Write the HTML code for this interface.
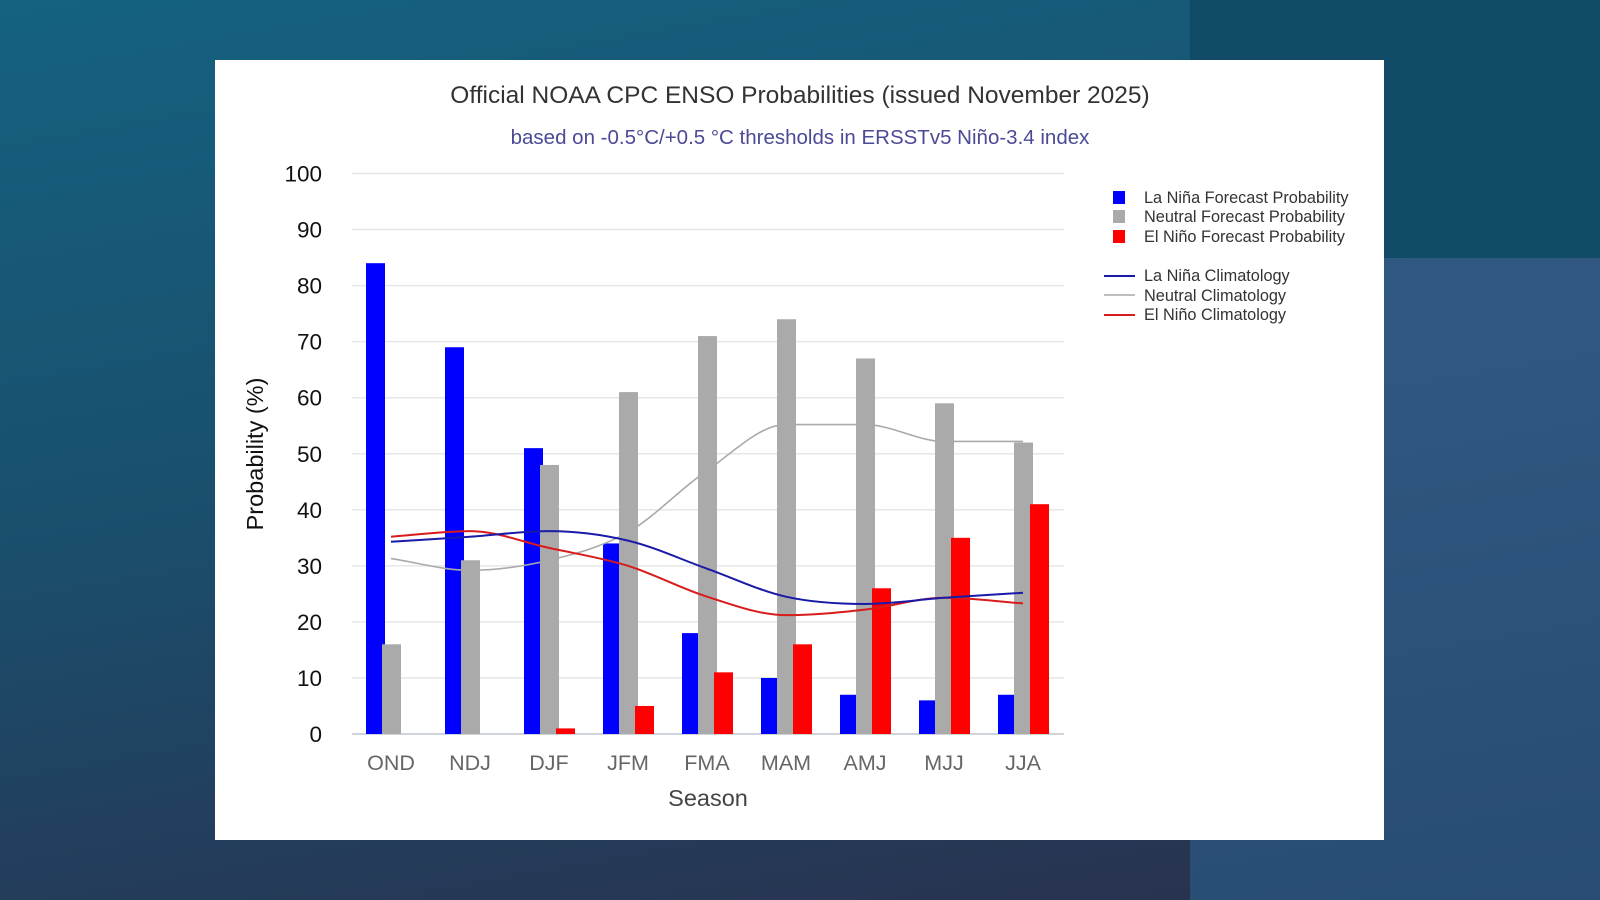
<!DOCTYPE html>
<html><head><meta charset="utf-8"><style>
html,body{margin:0;padding:0;width:1600px;height:900px;overflow:hidden;font-family:"Liberation Sans",sans-serif;}
#bg{position:absolute;left:0;top:0;width:1600px;height:900px;background:linear-gradient(170deg,#14627f 0%,#1a4f6e 45%,#2a2f4c 100%);}
#rt{position:absolute;left:1190px;top:0;width:410px;height:258px;background:linear-gradient(180deg,#0f4a66,#124b68);}
#rb{position:absolute;left:1190px;top:258px;width:410px;height:642px;background:linear-gradient(170deg,#315a82,#284c74);}
#panel{position:absolute;left:215px;top:60px;width:1169px;height:780px;background:#fff;}
svg{position:absolute;left:0;top:0;}
</style></head><body>
<div id="bg"></div>
<div id="rt"></div>
<div id="rb"></div>
<div id="panel"></div>
<svg id="chart" width="1600" height="900">
<text x="800" y="103" text-anchor="middle" font-size="24.5" fill="#333">Official NOAA CPC ENSO Probabilities (issued November 2025)</text>
<text x="800" y="144" text-anchor="middle" font-size="20.5" fill="#4b4a96">based on -0.5°C/+0.5 °C thresholds in ERSSTv5 Niño-3.4 index</text>
<text transform="translate(263,454) rotate(-90)" text-anchor="middle" font-size="23.5" fill="#111">Probability (%)</text>
<text x="708" y="806" text-anchor="middle" font-size="23.5" fill="#444">Season</text>
<g id="grid"></g><g id="bars"></g><g id="lines"></g><g id="xt"></g>
<g font-size="16.3" fill="#333">
<rect x="1113" y="191" width="12" height="13" fill="#0000ff"/>
<text x="1144" y="203">La Niña Forecast Probability</text>
<rect x="1113" y="210" width="12" height="13" fill="#aaaaaa"/>
<text x="1144" y="222">Neutral Forecast Probability</text>
<rect x="1113" y="230" width="12" height="13" fill="#ff0000"/>
<text x="1144" y="242">El Niño Forecast Probability</text>
<line x1="1104" x2="1135" y1="276" y2="276" stroke="#1a1aa8" stroke-width="2"/>
<text x="1144" y="281">La Niña Climatology</text>
<line x1="1104" x2="1135" y1="295" y2="295" stroke="#aaa" stroke-width="1.5"/>
<text x="1144" y="301">Neutral Climatology</text>
<line x1="1104" x2="1135" y1="315" y2="315" stroke="#d81b1b" stroke-width="2"/>
<text x="1144" y="320">El Niño Climatology</text>
</g>
</svg>
<script>
const seasons=["OND","NDJ","DJF","JFM","FMA","MAM","AMJ","MJJ","JJA"];
const laNina=[84,69,51,34,18,10,7,6,7];
const neutral=[16,31,48,61,71,74,67,59,52];
const elNino=[0,0,1,5,11,16,26,35,41];
const laNinaClim=[34.3,35.2,36.2,34.5,29.5,24.5,23.2,24.3,25.2];
const neutralClim=[31.3,29.2,31,36,47,55.2,55.2,52.2,52.2];
const elNinoClim=[35.2,36.2,33.2,30,24.5,21.2,22.2,24.3,23.3];
const yTicks=[0,10,20,30,40,50,60,70,80,90,100];

const NS="http://www.w3.org/2000/svg";
const y=v=>734-(v/100)*560.5;
const x=i=>391+i*79;
function mk(tag,attrs,parent){const e=document.createElementNS(NS,tag);for(const k in attrs)e.setAttribute(k,attrs[k]);parent.appendChild(e);return e;}
const grid=document.getElementById('grid');
yTicks.forEach(t=>{
  const l=mk('line',{x1:352,x2:1064,y1:y(t),y2:y(t),stroke:t===0?'#cfd3dc':'#e6e6e6','stroke-width':t===0?2:1.5},grid);
  
  
  const tx=mk('text',{x:322,y:y(t)+8,'text-anchor':'end','font-size':22.5,fill:'#111'},grid);
  tx.textContent=t;
  
  
});
const xt=document.getElementById('xt');
seasons.forEach((s,i)=>{
  const tx=mk('text',{x:x(i),y:770,'text-anchor':'middle','font-size':21.5,fill:'#666'},xt);
  tx.textContent=s;
  
  
});
const bars=document.getElementById('bars');
const series=[[laNina,'#0000ff',-25,'lanina'],[neutral,'#aaaaaa',-9,'neutral'],[elNino,'#ff0000',7,'elnino']];
series.forEach(([arr,col,off,nm])=>{
  arr.forEach((v,i)=>{
    if(v<=0)return;
    const r=mk('rect',{x:x(i)+off,y:y(v),width:19,height:734-y(v),fill:col},bars);
    
    
  });
});
function smooth(arr){
  const p=arr.map((v,i)=>[x(i),y(v)]);
  const n=p.length,h=79;
  const d=[];for(let i=0;i<n-1;i++)d.push((p[i+1][1]-p[i][1])/h);
  const m=[];
  for(let i=0;i<n;i++){
    if(i===0)m.push(d[0]);else if(i===n-1)m.push(d[n-2]);
    else m.push(d[i-1]*d[i]<=0?0:(d[i-1]+d[i])/2);
  }
  let s='M'+p[0][0]+','+p[0][1];
  for(let i=0;i<n-1;i++){
    s+=' C'+(p[i][0]+h/3)+','+(p[i][1]+m[i]*h/3)+' '+(p[i+1][0]-h/3)+','+(p[i+1][1]-m[i+1]*h/3)+' '+p[i+1][0]+','+p[i+1][1];
  }
  return s;
}
const lines=document.getElementById('lines');
[[neutralClim,'#aaaaaa',1.6,'neutral'],[elNinoClim,'#d81b1b',2,'elnino'],[laNinaClim,'#1a1aa8',2,'lanina']].forEach(([arr,col,w,nm])=>{
  const p=mk('path',{d:smooth(arr),fill:'none',stroke:col,'stroke-width':w},lines);
  
  
});
</script>
</body></html>
